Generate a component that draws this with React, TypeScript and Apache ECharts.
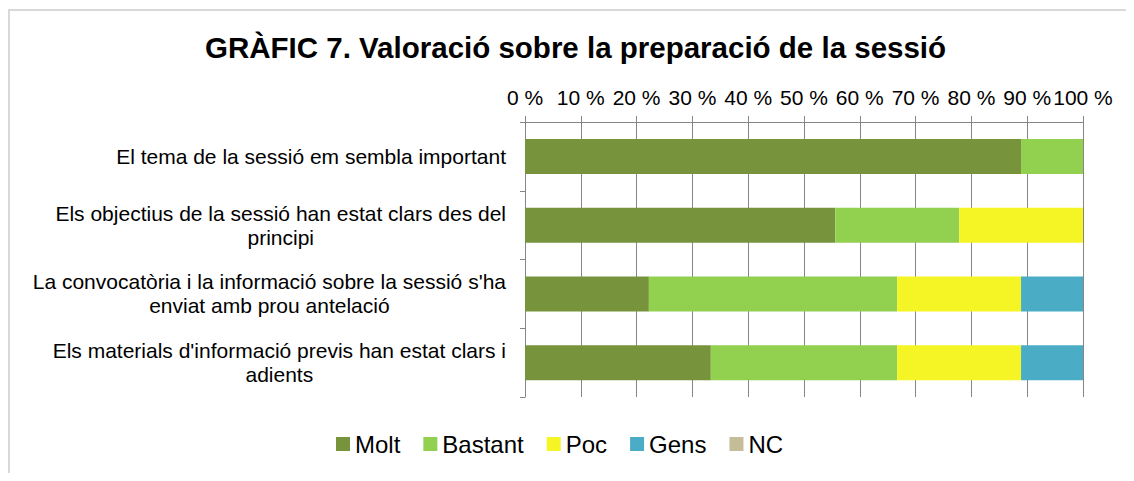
import React, { useEffect, useRef } from "react";
import * as echarts from "echarts";

const categories = [
  "El tema de la sessió em sembla important",
  "Els objectius de la sessió han estat clars des del\nprincipi",
  "La convocatòria i la informació sobre la sessió s'ha\nenviat amb prou antelació",
  "Els materials d'informació previs han estat clars i\nadients",
];
const seriesNames = ["Molt", "Bastant", "Poc", "Gens", "NC"];
const molt = [88.9, 55.6, 22.2, 33.3];
const bastant = [11.1, 22.2, 44.5, 33.4];
const poc = [0, 22.2, 22.2, 22.2];
const gens = [0, 0, 11.1, 11.1];
const nc = [0, 0, 0, 0];
const colors = ["#77933c", "#92d050", "#f5f525", "#4bacc6", "#c4bd97"];

const FONT = "'Liberation Sans', Arial, sans-serif";
const LABEL_SIZE = 21;

export default function App() {
  const ref = useRef<HTMLDivElement>(null);
  useEffect(() => {
    if (!ref.current) return;
    // measure label lines so multi-line labels can be centred line by line
    const ctx = document.createElement("canvas").getContext("2d")!;
    ctx.font = `${LABEL_SIZE}px 'Liberation Sans', Arial, sans-serif`;
    const rich: Record<string, any> = {};
    const formatted: Record<string, string> = {};
    categories.forEach((cat, ci) => {
      const lines = cat.split("\n");
      const widths = lines.map((l) => ctx.measureText(l).width);
      const maxW = Math.max(...widths);
      formatted[cat] = lines
        .map((l, li) => {
          const key = `l${ci}_${li}`;
          rich[key] = {
            fontSize: LABEL_SIZE,
            lineHeight: 24,
            color: "#000",
            fontFamily: FONT,
            padding: [0, (maxW - widths[li]) / 2, 0, 0],
          };
          return `{${key}|${l}}`;
        })
        .join("\n");
    });

    const chart = echarts.init(ref.current, null, { renderer: "svg" });
    const values = [molt, bastant, poc, gens, nc];
    chart.setOption({
      animation: false,
      backgroundColor: "#ffffff",
      textStyle: { fontFamily: FONT },
      title: {
        text: "GRÀFIC 7. Valoració sobre la preparació de la sessió",
        left: 192,
        top: 19,
        textStyle: { fontSize: 29.5, fontWeight: "bold", color: "#000", fontFamily: FONT },
      },
      graphic: [
        {
          type: "rect",
          shape: { x: 1, y: 2, width: 3000, height: 3000 },
          style: { fill: "none", stroke: "#d9d9d9", lineWidth: 2 },
          silent: true,
        },
      ],
      legend: {
        data: seriesNames,
        left: 328,
        top: 424,
        padding: 0,
        icon: "rect",
        itemWidth: 14,
        itemHeight: 14,
        itemGap: 23,
        textStyle: { fontSize: 24, color: "#000", fontFamily: FONT },
      },
      grid: { left: 517, right: 43, top: 114, bottom: 84 },
      xAxis: {
        type: "value",
        position: "top",
        min: 0,
        max: 100,
        interval: 10,
        axisLine: { show: true, lineStyle: { color: "#868686" } },
        axisTick: { show: true, length: 6, lineStyle: { color: "#868686" } },
        splitLine: { show: true, lineStyle: { color: "#868686", width: 1 } },
        axisLabel: {
          formatter: "{value} %",
          fontSize: LABEL_SIZE,
          color: "#000",
          margin: 14,
          fontFamily: FONT,
        },
      },
      yAxis: {
        type: "category",
        inverse: true,
        data: categories,
        axisLine: { show: true, lineStyle: { color: "#868686" } },
        axisTick: { show: true, length: 5, lineStyle: { color: "#868686" } },
        axisLabel: {
          margin: 19,
          align: "right",
          color: "#000",
          fontSize: LABEL_SIZE,
          fontFamily: FONT,
          lineHeight: 24,
          formatter: (v: string) => formatted[v] ?? v,
          rich,
        },
      },
      series: seriesNames.map((name, i) => ({
        name,
        type: "bar",
        stack: "total",
        barWidth: 35,
        data: values[i],
        itemStyle: { color: colors[i] },
      })),
    });
    return () => chart.dispose();
  }, []);
  return <div ref={ref} style={{ width: 1118, height: 473, marginBottom: -8 }} />;
}
